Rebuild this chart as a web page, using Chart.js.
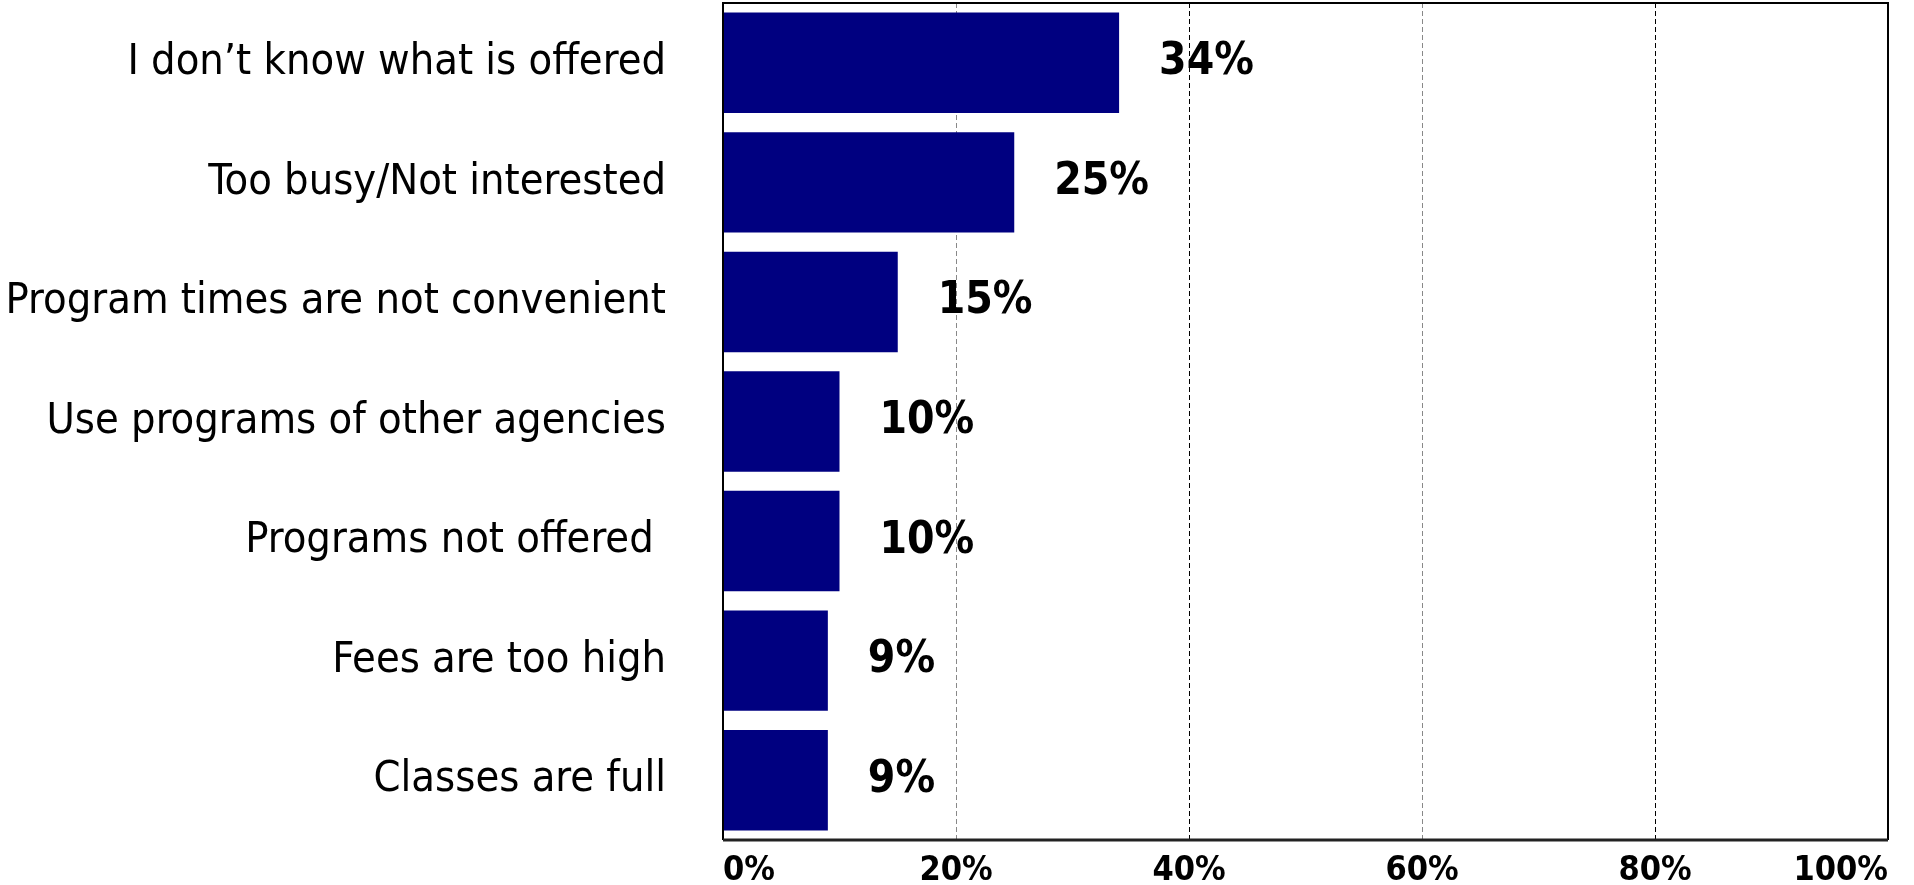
<!DOCTYPE html>
<html>
<head>
<meta charset="utf-8">
<title>Reasons for not using programs</title>
<script src="https://cdn.jsdelivr.net/npm/chart.js@4.4.1/dist/chart.umd.min.js"></script>
<style>
    html, body { margin: 0; padding: 0; background: #ffffff; }
    #wrap { position: relative; width: 1914px; height: 885px; }
</style>
</head>
<body>
<div id="wrap"><canvas id="myChart"></canvas></div>
<script>
// Survey answers, top to bottom
var reasons = [
    "I don\u2019t know what is offered",
    "Too busy/Not interested",
    "Program times are not convenient",
    "Use programs of other agencies",
    "Programs not offered ",
    "Fees are too high",
    "Classes are full"
];
var percents = [34, 25, 15, 10, 10, 9, 9];
var tickValues = [0, 20, 40, 60, 80, 100];

var labelFont = "'Liberation Sans Narrow', 'DejaVu Sans Condensed', 'Arial Narrow', sans-serif";

// Black frame round the plot area
var frame = {
    id: "frame",
    afterDatasetsDraw: function(chart) {
        var a = chart.chartArea;
        var ctx = chart.ctx;
        ctx.save();
        ctx.strokeStyle = "#000";
        ctx.lineWidth = 2;
        ctx.beginPath();
        ctx.moveTo(a.left, a.bottom);
        ctx.lineTo(a.left, a.top);
        ctx.lineTo(a.right, a.top);
        ctx.lineTo(a.right, a.bottom);
        ctx.stroke();
        // bottom axis is a bit heavier
        ctx.strokeStyle = "#222";
        ctx.lineWidth = 3;
        ctx.beginPath();
        ctx.moveTo(a.left, a.bottom);
        ctx.lineTo(a.right, a.bottom);
        ctx.stroke();
        ctx.restore();
    }
};

// Percentage text to the right of each bar
var valueLabels = {
    id: "valueLabels",
    afterDatasetsDraw: function(chart) {
        var ctx = chart.ctx;
        var meta = chart.getDatasetMeta(0);
        ctx.save();
        ctx.font = "bold 44px " + labelFont;
        ctx.fillStyle = "#000";
        ctx.textAlign = "left";
        ctx.textBaseline = "middle";
        meta.data.forEach(function(bar, i) {
            ctx.fillText(percents[i] + "%", bar.x + 40, bar.y);
        });
        ctx.restore();
    }
};

var chart = new Chart(document.getElementById("myChart").getContext("2d"), {
    type: "bar",
    data: {
        labels: reasons,
        datasets: [{
            data: percents,
            backgroundColor: "#000080",
            borderWidth: 0,
            barPercentage: 0.84,
            categoryPercentage: 1.0
        }]
    },
    options: {
        indexAxis: "y",
        responsive: true,
        maintainAspectRatio: false,
        animation: false,
        layout: { padding: { top: 3, right: 26, left: 0, bottom: 0 } },
        plugins: {
            legend: { display: false },
            tooltip: { enabled: false }
        },
        scales: {
            x: {
                min: 0,
                max: 100,
                afterBuildTicks: function(scale) {
                    scale.ticks = tickValues.map(function(v) { return { value: v }; });
                },
                afterFit: function(scale) {
                    scale.height = 45;
                    scale.paddingLeft = 0;
                    scale.paddingRight = 0;
                },
                grid: {
                    drawTicks: false,
                    lineWidth: 1,
                    color: function(ctx) {
                        return ctx.index % 2 === 1 ? "#888" : "#000";
                    }
                },
                border: { display: false, dash: [5, 3] },
                ticks: {
                    align: "inner",
                    padding: 11,
                    color: "#000",
                    font: { family: labelFont, size: 34, weight: "bold" },
                    callback: function(v) { return v + "%"; }
                }
            },
            y: {
                afterFit: function(scale) {
                    scale.width = 723;
                    // the big tick padding is only meant for the horizontal gap
                    scale.paddingTop = 0;
                    scale.paddingBottom = 0;
                },
                grid: { display: false, drawTicks: false },
                border: { display: false },
                ticks: {
                    padding: 57,
                    color: "#000",
                    font: { family: labelFont, size: 43 }
                }
            }
        }
    },
    plugins: [frame, valueLabels]
});
</script>
</body>
</html>
